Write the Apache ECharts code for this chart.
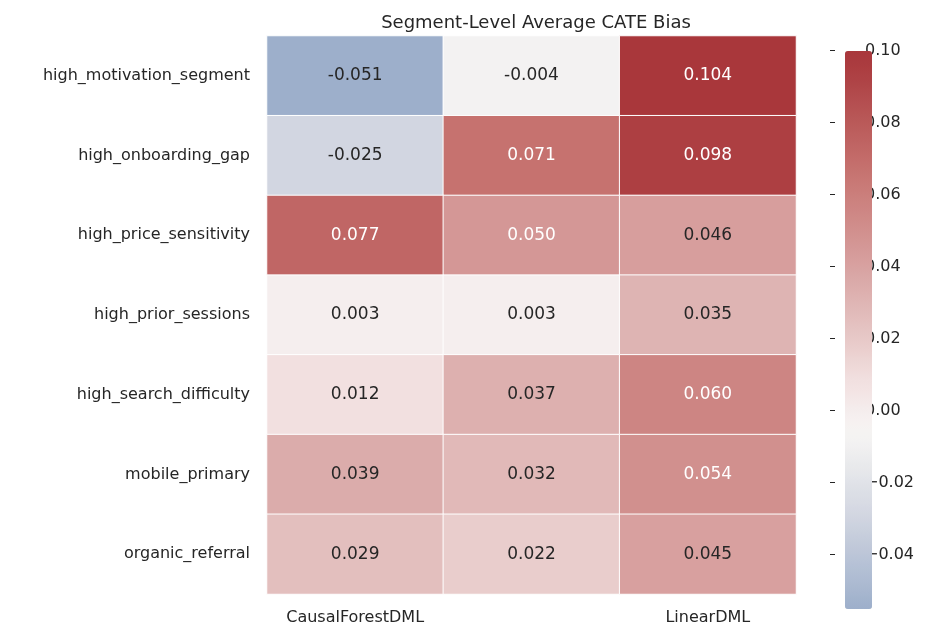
<!DOCTYPE html>
<html><head><meta charset="utf-8">
<script src="https://cdn.jsdelivr.net/npm/echarts@6/dist/echarts.min.js"></script>
<style>body{margin:0;background:#fff}#c{width:941px;height:640px}</style></head>
<body><div id="c"></div>
<script>
const models = ['CausalForestDML','DRLearner','LinearDML'];
const segments = ['high_motivation_segment','high_onboarding_gap','high_price_sensitivity','high_prior_sessions','high_search_difficulty','mobile_primary','organic_referral'];
const values = [
 [-0.051,-0.004,0.104],
 [-0.025,0.071,0.098],
 [0.077,0.050,0.046],
 [0.003,0.003,0.035],
 [0.012,0.037,0.060],
 [0.039,0.032,0.054],
 [0.029,0.022,0.045]
];
const cbTicks = [-0.04,-0.02,0,0.02,0.04,0.06,0.08,0.10];
const vmin=-0.051, vmax=0.104;
const stops=[[-0.051,[157,175,203]],[-0.025,[210,214,225]],[-0.004,[244,243,242]],[0,[246,243,242]],[0.003,[245,238,238]],[0.012,[242,225,225]],[0.022,[233,205,204]],[0.035,[222,180,179]],[0.05,[212,151,149]],[0.071,[198,114,111]],[0.098,[172,63,66]],[0.104,[169,55,59]]];
function col(v){for(let i=0;i<stops.length-1;i++){const [a,ca]=stops[i],[b,cb]=stops[i+1];if(v<=b){const t=(v-a)/(b-a);return 'rgb('+ca.map((c,k)=>Math.round(c+(cb[k]-c)*t)).join(',')+')';}}return 'rgb(169,55,59)';}
const colors=[];for(let i=0;i<=60;i++)colors.push(col(vmin+(vmax-vmin)*i/60));
const data=[];
segments.forEach((s,r)=>models.forEach((m,c)=>{const v=values[r][c];data.push({value:[c,r,v],label:{color:v>=0.05?'#ffffff':'#262626'}});}));
const fmt=v=>(v<0?'\u2212':'')+Math.abs(v).toFixed(2);
const chart=echarts.init(document.getElementById('c'));
chart.setOption({
 animation:false,
 title:{text:'Segment-Level Average CATE Bias',left:531,top:9,textAlign:'center',textStyle:{fontSize:18,fontWeight:'normal',color:'#262626',fontFamily:'DejaVu Sans'}},
 grid:[{left:267,top:36,width:529,height:558},{left:830,top:36,width:27,height:558}],
 xAxis:[{type:'category',data:models,gridIndex:0,axisLine:{show:false},axisTick:{show:false},axisLabel:{fontSize:16,color:'#262626',margin:16,fontFamily:'DejaVu Sans'}},
  {type:'value',gridIndex:1,show:false,min:0,max:1}],
 yAxis:[{type:'category',data:segments,inverse:true,gridIndex:0,axisLine:{show:false},axisTick:{show:false},axisLabel:{fontSize:16,color:'#262626',margin:17,fontFamily:'DejaVu Sans'}},
  {type:'value',gridIndex:1,position:'right',min:vmin,max:vmax,axisLine:{show:false},splitLine:{show:false},
   axisTick:{show:true,length:5,lineStyle:{color:'#262626'},customValues:cbTicks},
   axisLabel:{fontSize:16,color:'#262626',margin:8,fontFamily:'DejaVu Sans',customValues:cbTicks,formatter:fmt}}],
 visualMap:{type:'continuous',min:vmin,max:vmax,seriesIndex:0,calculable:false,inRange:{color:colors},left:830,top:36,itemWidth:27,itemHeight:558,text:['',''],showLabel:false},
 series:[{type:'heatmap',data:data,xAxisIndex:0,yAxisIndex:0,itemStyle:{borderColor:'#ffffff',borderWidth:1},
  label:{show:true,fontSize:17,fontFamily:'DejaVu Sans',formatter:p=>p.value[2].toFixed(3)}}]
});
</script></body></html>
